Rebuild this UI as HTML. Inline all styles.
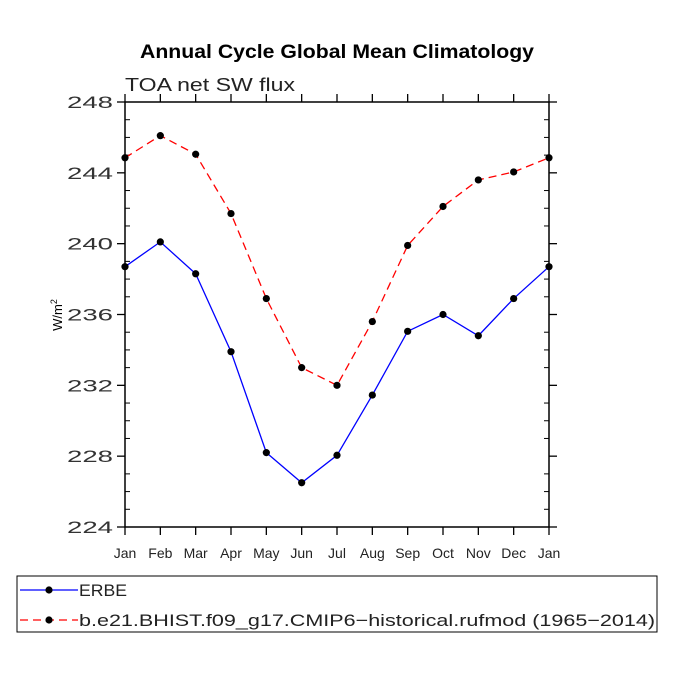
<!DOCTYPE html>
<html><head><meta charset="utf-8"><style>
body{margin:0;background:#fff}
svg text{font-family:"Liberation Sans",sans-serif}
</style></head><body>
<svg id="c" width="675" height="675" xmlns="http://www.w3.org/2000/svg">
<text x="140" y="58" textLength="394" lengthAdjust="spacingAndGlyphs" font-size="19" font-weight="bold">Annual Cycle Global Mean Climatology</text>
<text x="125" y="91" textLength="170" lengthAdjust="spacingAndGlyphs" font-size="18" fill="#222">TOA net SW flux</text>
<text transform="translate(62,315) rotate(-90)" text-anchor="middle" font-size="13">W/m<tspan dy="-5" font-size="9">2</tspan></text>
<g id="axes"></g>
<g id="series"></g>
<rect x="17" y="576" width="640" height="56" fill="none" stroke="#000"/>
<g>
<line x1="20" y1="590" x2="78" y2="590" stroke="#0000ff" stroke-width="1.3"/>
<circle cx="49" cy="590" r="3.6" fill="#000"/>
<text x="79" y="596" textLength="48" lengthAdjust="spacingAndGlyphs" font-size="17" fill="#222">ERBE</text>
</g>
<g>
<line x1="20" y1="620" x2="78" y2="620" stroke="#ff0000" stroke-width="1.3" stroke-dasharray="8,5"/>
<circle cx="49" cy="620" r="3.6" fill="#000"/>
<text x="79" y="626" textLength="576" lengthAdjust="spacingAndGlyphs" font-size="17" fill="#222">b.e21.BHIST.f09_g17.CMIP6−historical.rufmod (1965−2014)</text>
</g>
</svg>
<script>
const months=["Jan","Feb","Mar","Apr","May","Jun","Jul","Aug","Sep","Oct","Nov","Dec","Jan"];
const yTicks=[224,228,232,236,240,244,248];
const erbe=[238.7,240.1,238.3,233.9,228.2,226.5,228.05,231.45,235.05,236.0,234.8,236.9,238.7];
const model=[244.85,246.1,245.05,241.7,236.9,233.0,232.0,235.6,239.9,242.1,243.6,244.05,244.85];
const NS="http://www.w3.org/2000/svg";
const L=125,R=549,T=102,B=527,ymin=224,ymax=248;
const xs=i=>L+(R-L)*i/(months.length-1);
const ys=v=>B-(B-T)*(v-ymin)/(ymax-ymin);
function mk(tag,attrs,parent){const e=document.createElementNS(NS,tag);for(const k in attrs)e.setAttribute(k,attrs[k]);parent.appendChild(e);return e;}
const ax=document.getElementById('axes');
const frame=mk('rect',{x:L,y:T,width:R-L,height:B-T,fill:'none',stroke:'#000','stroke-width':1.5},ax);


yTicks.forEach(v=>{
  const y=ys(v);
  mk('line',{x1:L-8,y1:y,x2:L,y2:y,stroke:'#000','stroke-width':1.3},ax);
  mk('line',{x1:R,y1:y,x2:R+8,y2:y,stroke:'#000','stroke-width':1.3},ax);
  const t=mk('text',{x:L-12,y:y+6,'text-anchor':'end','font-size':17,textLength:46,lengthAdjust:'spacingAndGlyphs',fill:'#333'},ax);
  t.textContent=v;
  
  
});
for(let v=ymin+1;v<ymax;v++){ if((v-ymin)%4===0)continue; const y=ys(v);
  mk('line',{x1:L,y1:y,x2:L+5,y2:y,stroke:'#000'},ax);
  mk('line',{x1:R-5,y1:y,x2:R,y2:y,stroke:'#000'},ax);}
months.forEach((m,i)=>{
  const x=xs(i);
  mk('line',{x1:x,y1:B,x2:x,y2:B+8,stroke:'#000','stroke-width':1.3},ax);
  mk('line',{x1:x,y1:T-8,x2:x,y2:T,stroke:'#000','stroke-width':1.3},ax);
  const t=mk('text',{x:x,y:B+31,'text-anchor':'middle','font-size':14,fill:'#222'},ax);
  t.textContent=m;
  
  
});
const sg=document.getElementById('series');
function draw(vals,color,dash,name){
  const g=mk('g',{},sg);
  
  
  const a={points:vals.map((v,i)=>xs(i)+','+ys(v)).join(' '),fill:'none',stroke:color,'stroke-width':1.3};
  if(dash)a['stroke-dasharray']=dash;
  const pl=mk('polyline',a,g);
  
  
  vals.forEach((v,i)=>{const c=mk('circle',{cx:xs(i),cy:ys(v),r:3.6,fill:'#000'},g);
    
    });
}
draw(model,'#ff0000','8,5','model-series');
draw(erbe,'#0000ff',null,'erbe-series');
</script>
</body></html>
